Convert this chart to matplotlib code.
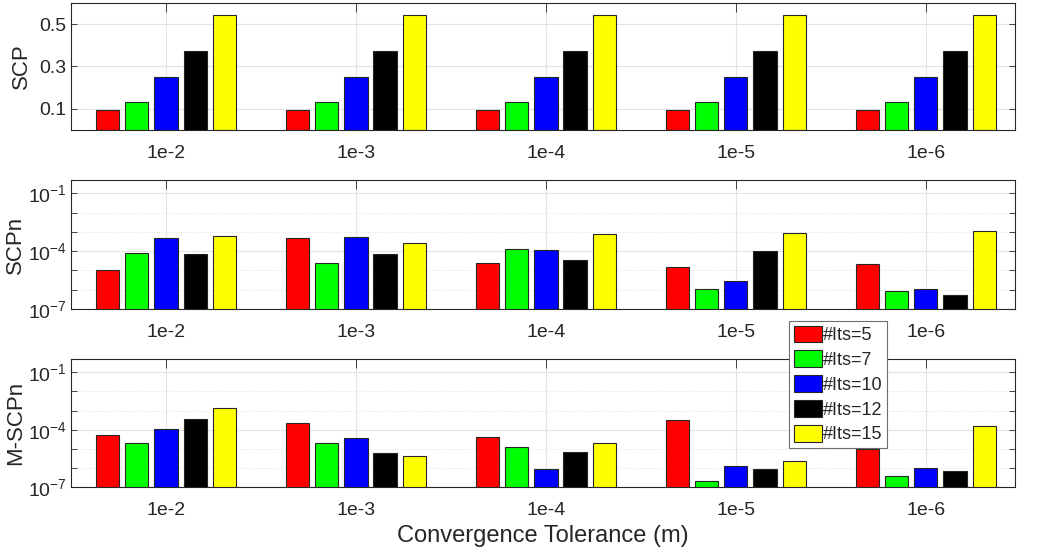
import numpy as np
import matplotlib
matplotlib.use("Agg")
import matplotlib.pyplot as plt
from matplotlib.ticker import FixedLocator, NullFormatter, LogFormatterSciNotation

plt.rcParams['font.family'] = ['Liberation Sans', 'DejaVu Sans']
plt.rcParams['mathtext.fontset'] = 'custom'
plt.rcParams['mathtext.rm'] = 'Liberation Sans'
plt.rcParams['mathtext.it'] = 'Liberation Sans:italic'
plt.rcParams['text.color'] = '#262626'

tolerances = ['1e-2', '1e-3', '1e-4', '1e-5', '1e-6']
its_labels = ['#Its=5', '#Its=7', '#Its=10', '#Its=12', '#Its=15']
colors = ['#ff0000', '#00ff00', '#0000ff', '#000000', '#ffff00']

# SCP (linear)
scp_its5 = [0.095, 0.095, 0.095, 0.095, 0.095]
scp_its7 = [0.134, 0.134, 0.134, 0.134, 0.134]
scp_its10 = [0.251, 0.251, 0.251, 0.251, 0.251]
scp_its12 = [0.373, 0.373, 0.373, 0.373, 0.373]
scp_its15 = [0.542, 0.542, 0.542, 0.542, 0.542]

# SCPn (log)
scpn_its5 = [1.1e-5, 4.8e-4, 2.5e-5, 1.5e-5, 2.3e-5]
scpn_its7 = [8.5e-5, 2.4e-5, 1.3e-4, 1.07e-6, 8.3e-7]
scpn_its10 = [4.8e-4, 5.4e-4, 1.1e-4, 3.0e-6, 1.1e-6]
scpn_its12 = [7.0e-5, 7.0e-5, 3.5e-5, 1.0e-4, 5.1e-7]
scpn_its15 = [6.3e-4, 2.7e-4, 7.4e-4, 9.1e-4, 1.1e-3]

# M-SCPn (log)
mscpn_its5 = [5.5e-5, 2.3e-4, 4.0e-5, 3.3e-4, 1.0e-5]
mscpn_its7 = [1.9e-5, 1.9e-5, 1.2e-5, 2.1e-7, 3.8e-7]
mscpn_its10 = [1.05e-4, 3.5e-5, 9.0e-7, 1.3e-6, 1.0e-6]
mscpn_its12 = [3.8e-4, 6.3e-6, 7.0e-6, 9.0e-7, 7.0e-7]
mscpn_its15 = [1.4e-3, 4.0e-6, 1.9e-5, 2.2e-6, 1.55e-4]

panels = [
    ("SCP", [scp_its5, scp_its7, scp_its10, scp_its12, scp_its15], False, -0.052),
    ("SCPn", [scpn_its5, scpn_its7, scpn_its10, scpn_its12, scpn_its15], True, -0.059),
    ("M-SCPn", [mscpn_its5, mscpn_its7, mscpn_its10, mscpn_its12, mscpn_its15], True, -0.059),
]

W, H = 1043, 552
fig = plt.figure(figsize=(W / 100, H / 100), dpi=100)

# axes boxes in pixels: (left, top, right, bottom)
boxes = [(71, 3, 1015, 130), (71, 180, 1015, 309), (71, 359, 1015, 487)]

x = np.arange(1, len(tolerances) + 1)
step = 0.154
width = 0.123
dark = '#262626'
gridc = '#e3e3e3'

handles = []
for (name, series, is_log, lab_x), (l, t, r, b) in zip(panels, boxes):
    ax = fig.add_axes([l / W, 1 - b / H, (r - l) / W, (b - t) / H])
    for k, vals in enumerate(series):
        bars = ax.bar(x + (k - 2) * step, vals, width, color=colors[k],
                      edgecolor=dark, linewidth=0.8, zorder=2,
                      label=its_labels[k], log=is_log)
        if name == "M-SCPn":
            handles.append(bars)
    ax.set_xlim(0.5, 5.47)
    ax.set_xticks(x)
    ax.set_xticklabels(tolerances)
    if is_log:
        ax.set_yscale('log')
        ax.set_ylim(1e-7, 0.5)
        ax.yaxis.set_major_locator(FixedLocator([1e-7, 1e-4, 1e-1]))
        ax.yaxis.set_major_formatter(LogFormatterSciNotation())
        minors = [1e-6, 1e-5, 1e-3, 1e-2]
        ax.yaxis.set_minor_locator(FixedLocator(minors))
        ax.yaxis.set_minor_formatter(NullFormatter())
        for m in minors:
            ax.axhline(m, color=gridc, lw=0.7, ls=(0, (1, 1.5)), zorder=0.5)
    else:
        ax.set_ylim(0, 0.6)
        ax.set_yticks([0.1, 0.3, 0.5])
        ax.set_yticklabels(['0.1', '0.3', '0.5'])
        ax.yaxis.set_minor_locator(FixedLocator([]))
    for yv in ax.get_yticks():
        ax.axhline(yv, color=gridc, lw=0.8, zorder=0.5)
    for xv in x:
        ax.axvline(xv, color=gridc, lw=0.8, zorder=0.5)

    ax.tick_params(axis='x', which='major', direction='in', top=True,
                   length=6.5, width=0.6, color=dark, pad=11,
                   labelsize=14, labelcolor=dark)
    ax.tick_params(axis='y', which='both', direction='in', right=True,
                   length=4, width=0.6, color=dark, pad=3,
                   labelsize=14, labelcolor=dark)
    for s in ax.spines.values():
        s.set_color(dark)
        s.set_linewidth(0.8)
    ax.set_ylabel(name, fontsize=16, color=dark, va='center')
    ax.yaxis.set_label_coords(lab_x, 0.5)

ax.set_xlabel("Convergence Tolerance (m)", fontsize=17, color=dark, labelpad=4)

leg = fig.legend(handles, its_labels, loc='upper left',
                 bbox_to_anchor=(789 / W, 1 - 321 / H),
                 fontsize=13, frameon=True, fancybox=False,
                 edgecolor='#6e6e6e', framealpha=1, borderpad=0.25,
                 handlelength=1.55, handleheight=1.05, handletextpad=0.1,
                 labelspacing=0.35, borderaxespad=0)
leg.get_frame().set_linewidth(0.8)

fig.savefig("out.png", dpi=100)
